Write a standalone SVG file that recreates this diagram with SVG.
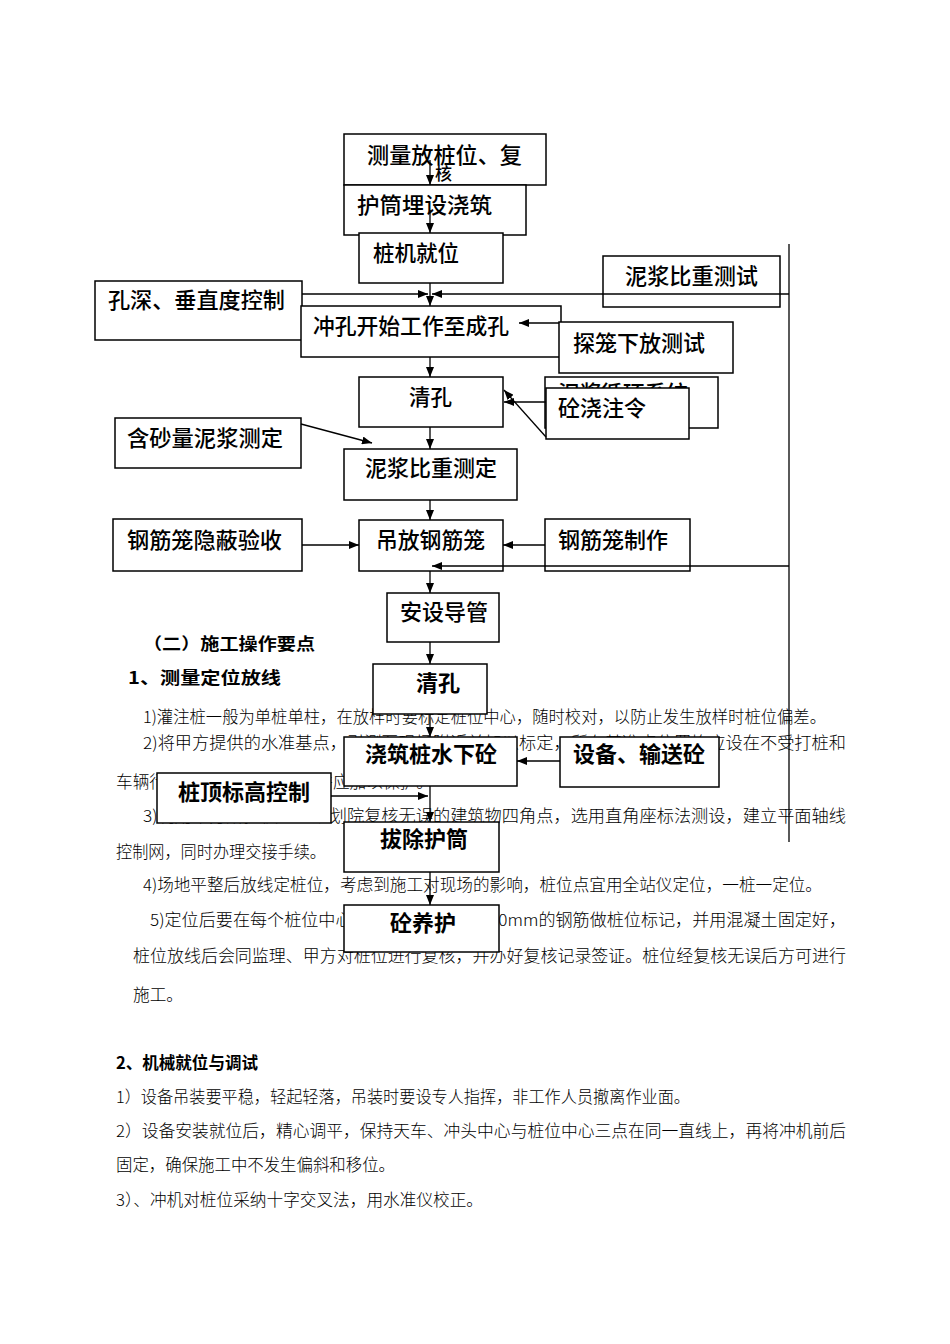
<svg xmlns="http://www.w3.org/2000/svg" width="950" height="1344" viewBox="0 0 950 1344">
<style>
.bg{fill:#fff}
.box{fill:#fff;stroke:#000;stroke-width:1.5}
.lbl{font-family:"Noto Sans CJK SC","Noto Sans",sans-serif;font-size:22px;font-weight:500;fill:#000}
.lb{font-weight:700}
.body{font-family:"Noto Sans CJK SC","Noto Sans",sans-serif;font-size:16.5px;font-weight:300;fill:#000}
.hd{font-family:"Noto Sans CJK SC","Noto Sans",sans-serif;font-size:16.5px;font-weight:700;fill:#000}
.ln{fill:none;stroke:#000;stroke-width:1.3}
</style>
<defs>
<marker id="ah" markerUnits="userSpaceOnUse" markerWidth="10" markerHeight="8" refX="10" refY="4" orient="auto">
<path d="M0,0 L10,4 L0,8 z" fill="#000"/>
</marker>
</defs>
<rect class="bg" x="0" y="0" width="950" height="1344"/>

<g id="page-text">
<text class="hd" x="143" y="650" textLength="172" lengthAdjust="spacingAndGlyphs">（二）施工操作要点</text>
<text class="hd" x="128" y="684" textLength="153" lengthAdjust="spacingAndGlyphs">1、测量定位放线</text>
<text class="body" x="143" y="723" textLength="683" lengthAdjust="spacingAndGlyphs">1)灌注桩一般为单桩单柱，在放样时要标定桩位中心，随时校对，以防止发生放样时桩位偏差。</text>
<text class="body" x="143" y="749" textLength="703" lengthAdjust="spacingAndGlyphs">2)将甲方提供的水准基点，引测至现场附近并加以标定，所有基准点位置均应设在不受打桩和</text>
<text class="body" x="116" y="788" textLength="317" lengthAdjust="spacingAndGlyphs">车辆行驶影响的稳固地方，并应加以保护。</text>
<text class="body" x="143" y="822" textLength="703" lengthAdjust="spacingAndGlyphs">3)利用甲方所提供的经规划院复核无误的建筑物四角点，选用直角座标法测设，建立平面轴线</text>
<text class="body" x="116" y="858" textLength="210" lengthAdjust="spacingAndGlyphs">控制网，同时办理交接手续。</text>
<text class="body" x="143" y="891" textLength="679" lengthAdjust="spacingAndGlyphs">4)场地平整后放线定桩位，考虑到施工对现场的影响，桩位点宜用全站仪定位，一桩一定位。</text>
<text class="body" x="150" y="926" textLength="696" lengthAdjust="spacingAndGlyphs">5)定位后要在每个桩位中心打入一根直径约为20mm的钢筋做桩位标记，并用混凝土固定好，</text>
<text class="body" x="133" y="962" textLength="713" lengthAdjust="spacingAndGlyphs">桩位放线后会同监理、甲方对桩位进行复核，并办好复核记录签证。桩位经复核无误后方可进行</text>
<text class="body" x="133" y="1001" textLength="50" lengthAdjust="spacingAndGlyphs">施工。</text>
<text class="hd" x="116" y="1069" textLength="142" lengthAdjust="spacingAndGlyphs">2、机械就位与调试</text>
<text class="body" x="116" y="1103" textLength="574" lengthAdjust="spacingAndGlyphs">1）设备吊装要平稳，轻起轻落，吊装时要设专人指挥，非工作人员撤离作业面。</text>
<text class="body" x="116" y="1137" textLength="730" lengthAdjust="spacingAndGlyphs">2）设备安装就位后，精心调平，保持天车、冲头中心与桩位中心三点在同一直线上，再将冲机前后</text>
<text class="body" x="116" y="1171" textLength="279" lengthAdjust="spacingAndGlyphs">固定，确保施工中不发生偏斜和移位。</text>
<text class="body" x="116" y="1206" textLength="367" lengthAdjust="spacingAndGlyphs">3）、冲机对桩位采纳十字交叉法，用水准仪校正。</text>
</g>

<g id="n-celiang"><rect class="box" x="344" y="134" width="202" height="51"/><text class="lbl" x="367" y="163" textLength="155" lengthAdjust="spacingAndGlyphs">测量放桩位、复</text><text class="lbl" x="435" y="180" style="font-size:17px">核</text></g>
<g id="n-hutong"><rect class="box" x="344" y="185" width="182" height="50"/><text class="lbl" x="357" y="213" textLength="135" lengthAdjust="spacingAndGlyphs">护筒埋设浇筑</text></g>
<g id="n-zhuangji"><rect class="box" x="359" y="233" width="144" height="50"/><text class="lbl" x="373" y="261" textLength="86" lengthAdjust="spacingAndGlyphs">桩机就位</text></g>
<g id="n-kongshen"><rect class="box" x="95" y="281" width="207" height="59"/><text class="lbl" x="108" y="308" textLength="177" lengthAdjust="spacingAndGlyphs">孔深、垂直度控制</text></g>
<g id="n-chongkong"><rect class="box" x="301" y="306" width="260" height="51"/><text class="lbl" x="313" y="334" textLength="196" lengthAdjust="spacingAndGlyphs">冲孔开始工作至成孔</text></g>
<g id="n-nijiangceshi"><rect class="box" x="603" y="256" width="177" height="51"/><text class="lbl" x="625" y="284" textLength="133" lengthAdjust="spacingAndGlyphs">泥浆比重测试</text></g>
<g id="n-tanlong"><rect class="box" x="559" y="322" width="174" height="51"/><text class="lbl" x="573" y="351" textLength="132" lengthAdjust="spacingAndGlyphs">探笼下放测试</text></g>
<g id="n-xunhuan"><rect class="box" x="545" y="377" width="173" height="51"/><text class="lbl" x="558" y="401" textLength="130" lengthAdjust="spacingAndGlyphs">泥浆循环系统</text></g>
<g id="n-jiaozhuling"><rect class="box" x="546" y="388" width="143" height="51"/><text class="lbl" x="558" y="416" textLength="88" lengthAdjust="spacingAndGlyphs">砼浇注令</text></g>
<g id="n-qingkong1"><rect class="box" x="359" y="377" width="144" height="50"/><text class="lbl" x="409" y="405" textLength="43" lengthAdjust="spacingAndGlyphs">清孔</text></g>
<g id="n-hansha"><rect class="box" x="115" y="418" width="186" height="50"/><text class="lbl" x="127" y="446" textLength="156" lengthAdjust="spacingAndGlyphs">含砂量泥浆测定</text></g>
<g id="n-nijiangceding"><rect class="box" x="344" y="449" width="173" height="51"/><text class="lbl" x="365" y="476" textLength="132" lengthAdjust="spacingAndGlyphs">泥浆比重测定</text></g>
<g id="n-yinbi"><rect class="box" x="113" y="519" width="189" height="52"/><text class="lbl" x="127" y="548" textLength="155" lengthAdjust="spacingAndGlyphs">钢筋笼隐蔽验收</text></g>
<g id="n-diaofang"><rect class="box" x="359" y="520" width="144" height="51"/><text class="lbl" x="376" y="548" textLength="109" lengthAdjust="spacingAndGlyphs">吊放钢筋笼</text></g>
<g id="n-zhizuo"><rect class="box" x="545" y="519" width="145" height="52"/><text class="lbl" x="558" y="548" textLength="110" lengthAdjust="spacingAndGlyphs">钢筋笼制作</text></g>
<g id="n-daoguan"><rect class="box" x="387" y="593" width="112" height="49"/><text class="lbl" x="400" y="620" textLength="88" lengthAdjust="spacingAndGlyphs">安设导管</text></g>
<g id="n-qingkong2"><rect class="box" x="373" y="664" width="114" height="50"/><text class="lbl lb" x="416" y="691" textLength="44" lengthAdjust="spacingAndGlyphs">清孔</text></g>
<g id="n-jiaozhu"><rect class="box" x="344" y="737" width="173" height="49"/><text class="lbl lb" x="365" y="762" textLength="132" lengthAdjust="spacingAndGlyphs">浇筑桩水下砼</text></g>
<g id="n-shebei"><rect class="box" x="560" y="737" width="159" height="50"/><text class="lbl lb" x="573" y="762" textLength="132" lengthAdjust="spacingAndGlyphs">设备、输送砼</text></g>
<g id="n-zhuangding"><rect class="box" x="157" y="773" width="174" height="50"/><text class="lbl lb" x="178" y="800" textLength="132" lengthAdjust="spacingAndGlyphs">桩顶标高控制</text></g>
<g id="n-bachu"><rect class="box" x="344" y="822" width="155" height="50"/><text class="lbl lb" x="380" y="847" textLength="88" lengthAdjust="spacingAndGlyphs">拔除护筒</text></g>
<g id="n-yanghu"><rect class="box" x="344" y="905" width="155" height="47"/><text class="lbl lb" x="390" y="931" textLength="66" lengthAdjust="spacingAndGlyphs">砼养护</text></g>

<g id="connectors">
<path class="ln" d="M430,160 L430,185" marker-end="url(#ah)"/>
<path class="ln" d="M430,210 L430,233" marker-end="url(#ah)"/>
<path class="ln" d="M430,283 L430,306" marker-end="url(#ah)"/>
<path class="ln" d="M302,294 L428,294" marker-end="url(#ah)"/>
<path class="ln" d="M789,294 L432,294" marker-end="url(#ah)"/>
<path class="ln" d="M559,323 L519,323" marker-end="url(#ah)"/>
<path class="ln" d="M430,357 L430,377" marker-end="url(#ah)"/>
<path class="ln" d="M546,402 L504,402" marker-end="url(#ah)"/>
<path class="ln" d="M546,437 L504,390" marker-end="url(#ah)"/>
<path class="ln" d="M301,424 L372,443" marker-end="url(#ah)"/>
<path class="ln" d="M430,427 L430,449" marker-end="url(#ah)"/>
<path class="ln" d="M430,500 L430,520" marker-end="url(#ah)"/>
<path class="ln" d="M302,545 L359,545" marker-end="url(#ah)"/>
<path class="ln" d="M545,545 L503,545" marker-end="url(#ah)"/>
<path class="ln" d="M789,566 L432,566" marker-end="url(#ah)"/>
<path class="ln" d="M430,571 L430,593" marker-end="url(#ah)"/>
<path class="ln" d="M789,244 L789,842"/>
<path class="ln" d="M430,642 L430,664" marker-end="url(#ah)"/>
<path class="ln" d="M430,714 L430,737" marker-end="url(#ah)"/>
<path class="ln" d="M560,761 L517,761" marker-end="url(#ah)"/>
<path class="ln" d="M331,796 L428,796" marker-end="url(#ah)"/>
<path class="ln" d="M430,786 L430,822" marker-end="url(#ah)"/>
<path class="ln" d="M430,872 L430,905" marker-end="url(#ah)"/>
</g>
</svg>
